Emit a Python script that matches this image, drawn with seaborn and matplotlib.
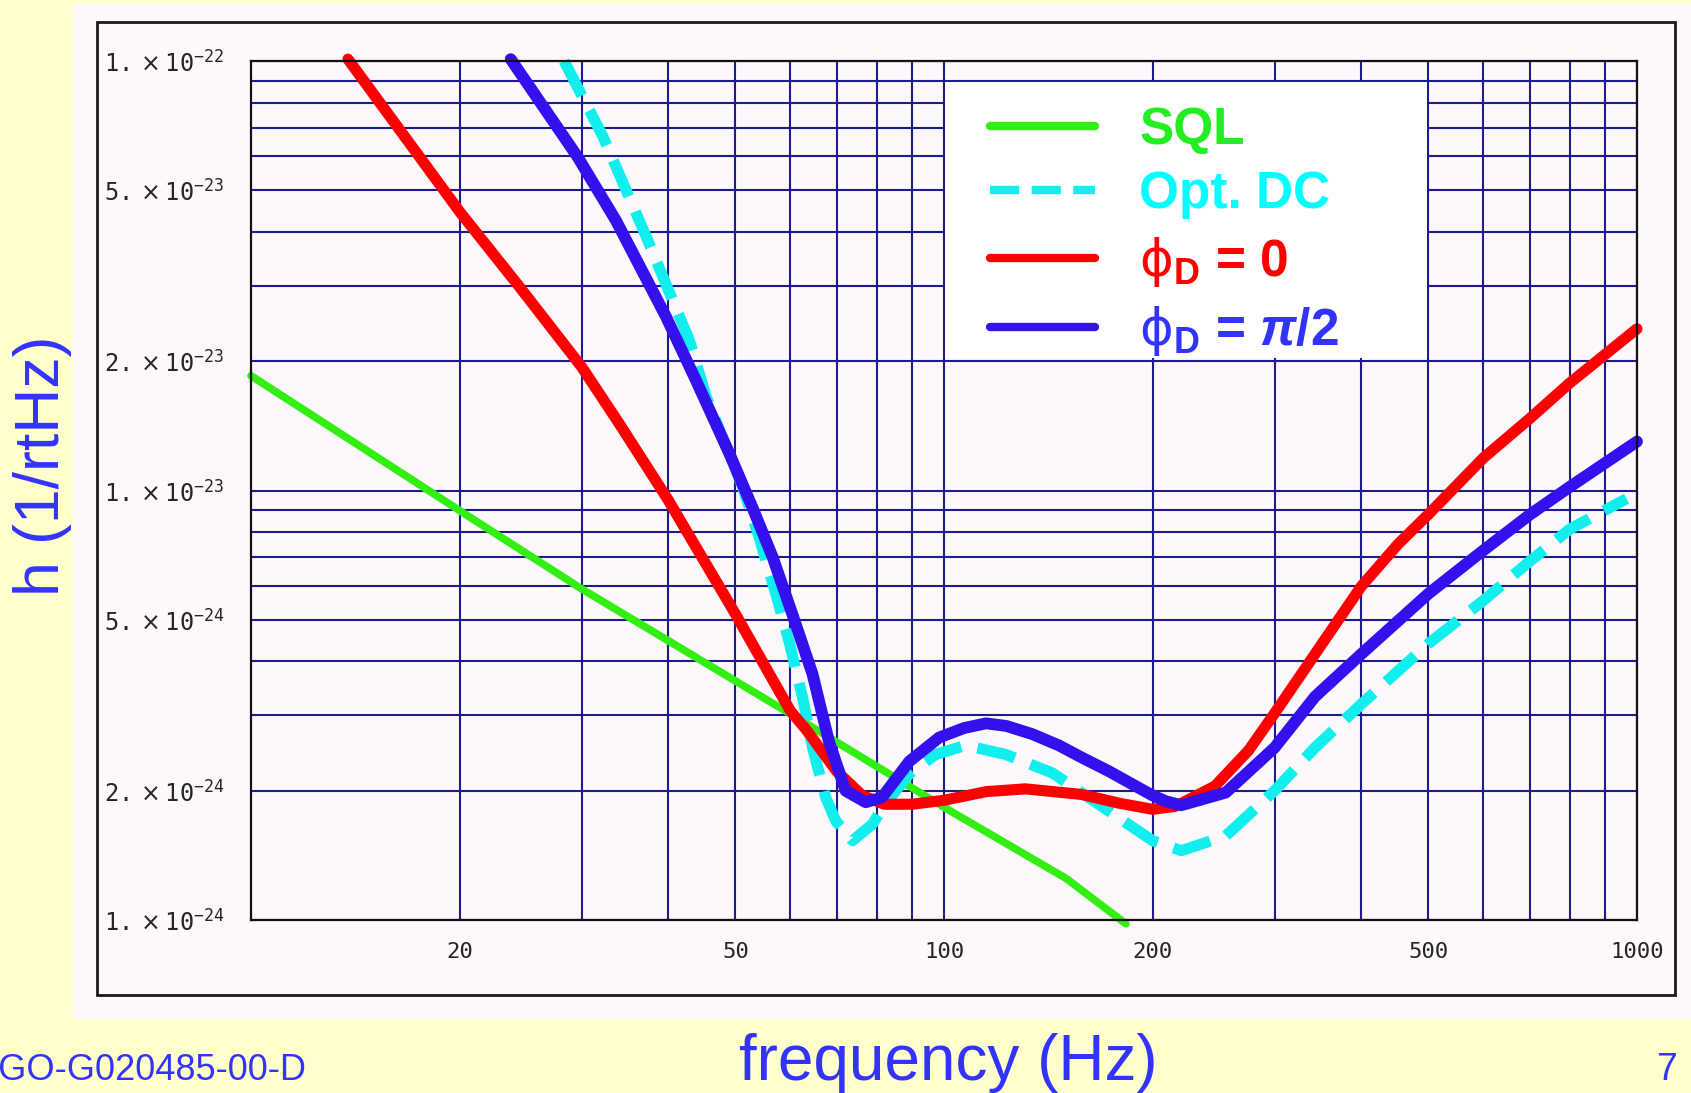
import matplotlib
matplotlib.use("Agg")
import matplotlib.pyplot as plt
from matplotlib.patches import Rectangle
from matplotlib.ticker import NullFormatter
import seaborn as sns

# --- data (frequency in Hz, strain in 1/rtHz) ---
sql_freq = [10, 20, 30, 40, 60, 100, 150, 183]
sql_h = [1.85e-23, 8.98e-24, 5.90e-24, 4.47e-24, 3.02e-24, 1.83e-24, 1.25e-24, 0.98e-24]

dc_freq = [28.3, 32.2, 37.2, 42.9, 45.4, 51.2, 54.1, 57.2, 59.8, 62.5, 64.6, 67.5,
           69.8, 73.8, 78.8, 82, 89.1, 97.3, 107.4, 122.7, 143.3, 167.2, 200, 220,
           255, 300, 343, 400, 500, 600, 700, 800, 966]
dc_h = [1.0e-22, 6.67e-23, 3.89e-23, 2.24e-23, 1.65e-23, 1.02e-23, 7.78e-24, 5.74e-24,
        4.43e-24, 3.30e-24, 2.52e-24, 1.93e-24, 1.70e-24, 1.53e-24, 1.67e-24, 1.85e-24,
        2.19e-24, 2.43e-24, 2.55e-24, 2.43e-24, 2.20e-24, 1.86e-24, 1.53e-24, 1.45e-24,
        1.57e-24, 2.0e-24, 2.52e-24, 3.18e-24, 4.40e-24, 5.54e-24, 6.84e-24, 8.13e-24,
        9.57e-24]

phi0_freq = [13.8, 20, 24.4, 30, 34, 40, 50, 60, 63.2, 70, 76.2, 82, 90, 100,
             115, 131, 158, 179, 200, 216, 246, 275, 300, 343, 400, 452, 500, 600,
             700, 800, 1000]
phi0_h = [1.01e-22, 4.46e-23, 2.98e-23, 1.94e-23, 1.43e-23, 9.5e-24, 5.16e-24,
          3.07e-24, 2.78e-24, 2.22e-24, 1.95e-24, 1.86e-24, 1.86e-24, 1.90e-24, 1.99e-24,
          2.02e-24, 1.96e-24, 1.87e-24, 1.81e-24, 1.84e-24, 2.05e-24, 2.48e-24, 3.03e-24,
          4.16e-24, 5.98e-24, 7.5e-24, 8.8e-24, 1.19e-23, 1.47e-23, 1.78e-23, 2.38e-23]

phi90_freq = [23.7, 29.6, 33.6, 39.7, 43.9, 49, 52.9, 56.6, 60.4, 64.6, 68.2, 72.1,
              77.1, 81.4, 89.1, 98.4, 107, 115, 123, 134, 146.5, 158, 173, 187, 200,
              209, 220, 255, 300, 343, 400, 500, 600, 700, 800, 1000]
phi90_h = [1.01e-22, 5.98e-23, 4.26e-23, 2.54e-23, 1.80e-23, 1.22e-23, 9.14e-24, 6.99e-24,
           5.16e-24, 3.74e-24, 2.61e-24, 2.0e-24, 1.88e-24, 1.93e-24, 2.34e-24, 2.66e-24,
           2.80e-24, 2.87e-24, 2.83e-24, 2.71e-24, 2.55e-24, 2.39e-24, 2.22e-24, 2.07e-24,
           1.95e-24, 1.89e-24, 1.85e-24, 1.98e-24, 2.52e-24, 3.31e-24, 4.16e-24, 5.75e-24,
           7.25e-24, 8.78e-24, 1.02e-23, 1.30e-23]

x_major = [20, 50, 100, 200, 500, 1000]
x_labels = ["20", "50", "100", "200", "500", "1000"]
x_minor = [30, 40, 60, 70, 80, 90, 300, 400, 600, 700, 800, 900]
y_major = [1e-24, 2e-24, 5e-24, 1e-23, 2e-23, 5e-23, 1e-22]
y_labels = [r"$\mathtt{1.}\times\mathtt{10}^{\mathtt{-24}}$",
            r"$\mathtt{2.}\times\mathtt{10}^{\mathtt{-24}}$",
            r"$\mathtt{5.}\times\mathtt{10}^{\mathtt{-24}}$",
            r"$\mathtt{1.}\times\mathtt{10}^{\mathtt{-23}}$",
            r"$\mathtt{2.}\times\mathtt{10}^{\mathtt{-23}}$",
            r"$\mathtt{5.}\times\mathtt{10}^{\mathtt{-23}}$",
            r"$\mathtt{1.}\times\mathtt{10}^{\mathtt{-22}}$"]
y_minor = [3e-24, 4e-24, 6e-24, 7e-24, 8e-24, 9e-24,
           3e-23, 4e-23, 6e-23, 7e-23, 8e-23, 9e-23]

legend_labels = ["SQL", "Opt. DC", r"$\mathrm{ϕ}_\mathbf{D}$ = 0",
                 r"$\mathrm{ϕ}_\mathbf{D}$ = $\mathit{π}$/2"]
legend_colors = ["#22EE22", "#00FFFF", "#FF0000", "#3333FF"]

# --- style ---
sns.set_style("white")
plt.rcParams["font.family"] = ["Liberation Sans", "DejaVu Sans"]
plt.rcParams["mathtext.fontset"] = "custom"
plt.rcParams["mathtext.rm"] = "DejaVu Sans"
plt.rcParams["mathtext.bf"] = "Liberation Sans:bold"
plt.rcParams["mathtext.it"] = "Liberation Sans:italic:bold"
plt.rcParams["mathtext.tt"] = "DejaVu Sans Mono"

W, H = 1691, 1093
BLUE_TXT = "#3333FF"
GRID = "#1C1C8C"
PANEL = "#FCF8FC"

fig = plt.figure(figsize=(W / 100, H / 100), dpi=100, facecolor="#FFFFCC")

# white slide panel and the outer black frame
fig.patches.append(Rectangle((73 / W, 1 - 1019 / H), 1 - 73 / W, 1015 / H,
                             transform=fig.transFigure, facecolor=PANEL,
                             edgecolor="none", zorder=-2))
fig.patches.append(Rectangle((97 / W, 1 - 995 / H), (1675 - 97) / W, (995 - 22) / H,
                             transform=fig.transFigure, fill=False,
                             edgecolor="#1A1A1A", lw=2, zorder=-1))

ax = fig.add_axes([251 / W, 1 - 920 / H, 1386 / W, 859 / H])
ax.set_facecolor(PANEL)
ax.set_xscale("log")
ax.set_yscale("log")

sns.lineplot(x=sql_freq, y=sql_h, ax=ax, color="#33EE11", lw=5.5, estimator=None,
             sort=False, label="SQL", legend=False, clip_on=False)
sns.lineplot(x=dc_freq, y=dc_h, ax=ax, color="#11EEEE", lw=8, estimator=None,
             sort=False, label="Opt. DC", legend=False, linestyle=(0, (3.5, 1.5)),
             clip_on=False)
sns.lineplot(x=phi0_freq, y=phi0_h, ax=ax, color="#FF0000", lw=8, estimator=None,
             sort=False, label="phi0", legend=False, clip_on=False)
sns.lineplot(x=phi90_freq, y=phi90_h, ax=ax, color="#3311EE", lw=8.5, estimator=None,
             sort=False, label="phi90", legend=False, clip_on=False)

ax.set_xlim(10, 1000)
ax.set_ylim(1e-24, 1e-22)

ax.set_xticks(x_major)
ax.set_xticklabels(x_labels, fontfamily="DejaVu Sans Mono", fontsize=16)
ax.set_xticks(x_minor, minor=True)
ax.xaxis.set_minor_formatter(NullFormatter())
ax.set_yticks(y_major)
ax.set_yticklabels(y_labels, fontsize=17)
ax.set_yticks(y_minor, minor=True)
ax.yaxis.set_minor_formatter(NullFormatter())
ax.tick_params(axis="both", which="both", length=0)
ax.tick_params(axis="x", pad=16)
ax.tick_params(axis="y", pad=106)
for lab in ax.get_yticklabels():
    lab.set_horizontalalignment("left")

ax.set_axisbelow(True)
ax.grid(which="both", color=GRID, lw=1.5)
for sp in ax.spines.values():
    sp.set_color("#111111")
    sp.set_linewidth(1.6)
    sp.set_visible(True)

# white legend box covering the grid
ax.add_patch(Rectangle((0.5007, 0.654), 0.3477, 0.3215, transform=ax.transAxes,
                       facecolor="white", edgecolor="none", zorder=1.5))
leg = ax.legend(handles=ax.get_lines()[:4], labels=legend_labels, loc="upper left",
                bbox_to_anchor=(0.5332, 0.948), frameon=False, borderpad=0,
                borderaxespad=0, handlelength=2.05, handletextpad=0.85,
                labelspacing=0.3, prop=dict(weight="bold", size=37))
leg.set_zorder(5)
for txt, c in zip(leg.get_texts(), legend_colors):
    txt.set_color(c)
for hl in leg.get_lines():
    hl.set_linewidth(6)

# slide texts
fig.text(42 / W, 1 - 466 / H, "h (1/rtHz)", rotation=90, color=BLUE_TXT,
         fontsize=45, ha="center", va="center")
fig.text(948 / W, 1 - 1080 / H, "frequency (Hz)", color=BLUE_TXT, fontsize=46,
         ha="center", va="baseline")
fig.text(306 / W, 1 - 1080 / H, "LIGO-G020485-00-D", color=BLUE_TXT, fontsize=26,
         ha="right", va="baseline")
fig.text(1666 / W, 1 - 1080 / H, "7", color=BLUE_TXT, fontsize=27,
         ha="center", va="baseline")

fig.savefig("out.png", dpi=100, facecolor=fig.get_facecolor())
